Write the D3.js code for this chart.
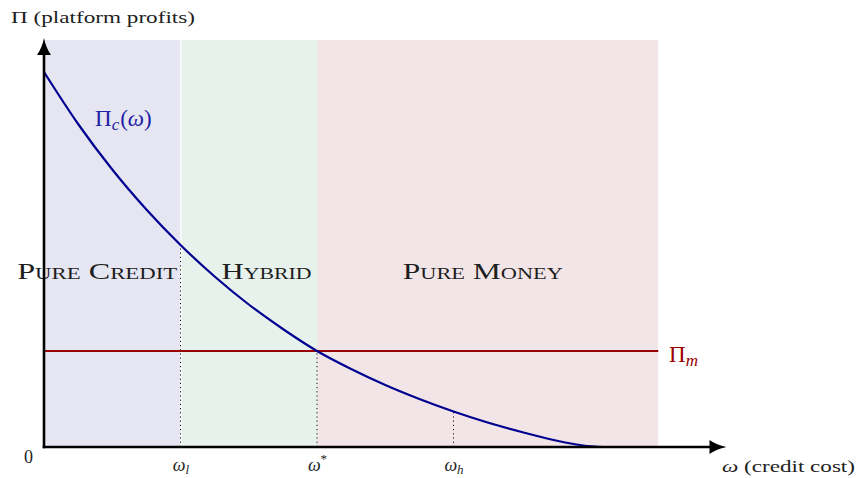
<!doctype html>
<html>
<head>
<meta charset="utf-8" />
<title>Platform profits</title>
<script src="https://cdn.jsdelivr.net/npm/d3@7"></script>
<style>
	body { margin: 0; background: #fff; }
	svg { display: block; }
	text { font-family: 'Liberation Serif', 'DejaVu Serif', serif; fill: #1e1e1e; }
	.region-label { font-variant: small-caps; font-size: 24px; text-anchor: middle; }
	.axis-label { font-size: 17.5px; }
	.tick text { font-size: 18px; font-style: italic; fill: #1e1e1e; }
</style>
</head>
<body>
<div id="chart"></div>
<script>
// credit cost grid and the credit-only profit curve
const omega = [0, 0.25, 0.5, 0.75, 1, 1.25, 1.5, 1.75, 2, 2.25, 2.5, 2.75, 3, 3.25, 3.5, 3.75, 3.95, 4.1];
const profitCredit = [3.75, 3.23, 2.775, 2.375, 2.02, 1.705, 1.425, 1.18, 0.96, 0.78, 0.62, 0.48, 0.355, 0.245, 0.15, 0.065, 0.015, 0];
// money-only profit is flat
const profitMoney = 0.96;
const moneyRange = [0, 4.5];
// regimes
const regionNames = ['Pure Credit', 'Hybrid', 'Pure Money'];
const regionBounds = [0, 1, 2, 4.5];
const regionColors = ['#e6e6f2', '#e8f2ed', '#f2e5e7'];
const regionTop = 4.07;
// threshold ticks
const tickVals = [1, 2, 3];
const tickBase = ['ω', 'ω', 'ω'];
const tickSub = ['l', '*', 'h'];

// layout (label centres in omega units, widths in px)
const labelCentres = [0.39, 1.63, 3.215];
const labelWidths = [160, 90, 160];

const width = 859, height = 478;
const x = d3.scaleLinear().domain([0, 5]).range([44, 726.5]);
const y = d3.scaleLinear().domain([0, 4.09]).range([447, 38]);

const svg = d3.select('#chart').append('svg')
	.attr('width', width)
	.attr('height', height);

// shaded regimes
svg.append('g').selectAll('rect')
	.data(regionNames)
	.join('rect')
	.attr('x', (d, i) => x(regionBounds[i]))
	.attr('y', y(regionTop))
	.attr('width', (d, i) => x(regionBounds[i + 1]) - x(regionBounds[i]))
	.attr('height', y(0) - y(regionTop))
	.attr('fill', (d, i) => regionColors[i]);

svg.append('line')
	.attr('x1', x(regionBounds[1]) + 0.5).attr('x2', x(regionBounds[1]) + 0.5)
	.attr('y1', y(regionTop)).attr('y2', y(0))
	.attr('stroke', '#fff').attr('stroke-width', 1);

// dotted drop lines to the thresholds
function valueAt(w) { return profitCredit[omega.indexOf(w)]; }
svg.append('g').selectAll('line')
	.data(tickVals)
	.join('line')
	.attr('x1', d => x(d)).attr('x2', d => x(d))
	.attr('y1', y(0)).attr('y2', d => y(valueAt(d)))
	.attr('stroke', '#111')
	.attr('stroke-width', 1)
	.attr('stroke-dasharray', '1.2,3');

// region labels
svg.append('g').selectAll('text')
	.data(regionNames)
	.join('text')
	.attr('class', 'region-label')
	.attr('x', (d, i) => x(labelCentres[i]))
	.attr('y', 279)
	.attr('textLength', (d, i) => labelWidths[i])
	.attr('lengthAdjust', 'spacingAndGlyphs')
	.text(d => d);

// money profit line
svg.append('line')
	.attr('x1', x(moneyRange[0])).attr('x2', x(moneyRange[1]))
	.attr('y1', y(profitMoney)).attr('y2', y(profitMoney))
	.attr('stroke', '#990000')
	.attr('stroke-width', 2.2);

// credit profit curve
const line = d3.line()
	.x((d, i) => x(omega[i]))
	.y(d => y(d))
	.curve(d3.curveMonotoneX);
svg.append('path')
	.datum(profitCredit)
	.attr('d', line)
	.attr('fill', 'none')
	.attr('stroke', '#000090')
	.attr('stroke-width', 2.2);

// curve labels
const blue = '#2222a8', red = '#990000';
const lc = svg.append('text').attr('x', 95).attr('y', 126).style('font-size', '23px');
lc.append('tspan').text('Π').attr('fill', blue);
lc.append('tspan').text('c').attr('dy', 4).style('font-size', '17px').style('font-style', 'italic').attr('fill', blue);
lc.append('tspan').text('(').attr('dy', -4).attr('dx', 1).attr('fill', blue);
lc.append('tspan').text('ω').style('font-style', 'italic').attr('fill', blue);
lc.append('tspan').text(')').attr('fill', blue);

const lm = svg.append('text').attr('x', 669).attr('y', 362).style('font-size', '23px');
lm.append('tspan').text('Π').attr('fill', red);
lm.append('tspan').text('m').attr('dy', 4).style('font-size', '17px').style('font-style', 'italic').attr('fill', red);

// x axis ticks
const xAxis = d3.axisBottom(x).tickValues(tickVals).tickSize(0).tickPadding(0).tickFormat('');
const gx = svg.append('g').attr('transform', `translate(0,${y(0)})`).call(xAxis);
gx.select('.domain').remove();
gx.selectAll('.tick text').each(function(d, i) {
	const t = d3.select(this).attr('y', 24).attr('dy', 0).attr('x', 0);
	t.append('tspan').text(tickBase[i]);
	const s = t.append('tspan').text(tickSub[i]).style('font-size', '13px');
	if (tickSub[i] === '*') s.attr('dy', -8).style('font-style', 'normal');
	else s.attr('dy', 3);
});

// axes with arrow heads
svg.append('line')
	.attr('x1', x(0)).attr('x2', x(0))
	.attr('y1', y(0) + 1.3).attr('y2', y(3.95))
	.attr('stroke', '#000').attr('stroke-width', 2.6);
svg.append('line')
	.attr('x1', x(0) - 1.3).attr('x2', x(4.9))
	.attr('y1', y(0)).attr('y2', y(0))
	.attr('stroke', '#000').attr('stroke-width', 2.6);

const tipY = y(4.09), tipX = x(5);
svg.append('path')
	.attr('d', `M${x(0)},${tipY} Q${x(0) + 2},${tipY + 10} ${x(0) + 7},${tipY + 17} L${x(0) - 7},${tipY + 17} Q${x(0) - 2},${tipY + 10} ${x(0)},${tipY} Z`)
	.attr('fill', '#000');
svg.append('path')
	.attr('d', `M${tipX},${y(0)} Q${tipX - 10},${y(0) - 2} ${tipX - 17},${y(0) - 7} L${tipX - 17},${y(0) + 7} Q${tipX - 10},${y(0) + 2} ${tipX},${y(0)} Z`)
	.attr('fill', '#000');

// axis titles
svg.append('text').attr('class', 'axis-label').attr('x', 11).attr('y', 23)
	.attr('textLength', 184).attr('lengthAdjust', 'spacingAndGlyphs')
	.text('Π (platform profits)');
const xt = svg.append('text').attr('class', 'axis-label').attr('x', 722).attr('y', 472)
	.attr('textLength', 133).attr('lengthAdjust', 'spacingAndGlyphs');
xt.append('tspan').text('ω').style('font-style', 'italic');
xt.append('tspan').text(' (credit cost)');
svg.append('text').attr('class', 'axis-label').attr('x', 24).attr('y', 463).style('font-size', '18px').text('0');
</script>
</body>
</html>
